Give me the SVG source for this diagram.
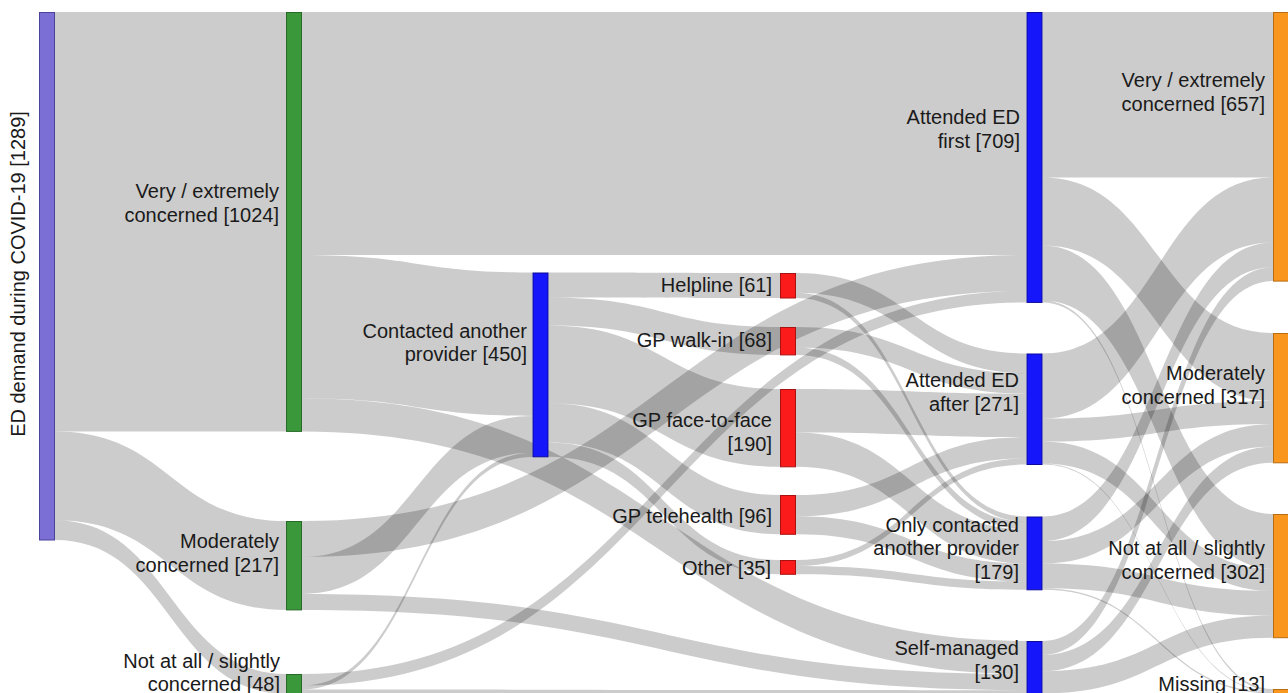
<svg xmlns="http://www.w3.org/2000/svg" width="1288" height="693" viewBox="0 0 1288 693">
<style>
  .lk { fill: #000; fill-opacity: 0.2; stroke: none; }
  .nd { stroke-width: 1; }
  .purple { fill: #7b6fd6; stroke: #4b4299; }
  .green { fill: #3a973a; stroke: #286a28; }
  .blue { fill: #1616fa; stroke: #0b0b9a; }
  .red { fill: #fc1b1b; stroke: #a81212; }
  .orange { fill: #f8961e; stroke: #b86d12; }
  text { font-family: "Liberation Sans", Arial, sans-serif; font-size: 20px; fill: #1a1a1a; text-anchor: end; }
</style>
<rect width="1288" height="693" fill="#fff"/>

<!-- flows -->
<g id="links">
  <!-- column 0 -> 1 -->
  <path class="lk" d="M55 12 L286 12 L286 431.4 L55 431.4 Z"/>
  <path class="lk" d="M55 431.4 C170.5 431.4 170.5 521 286 521 L286 609.9 C170.5 609.9 170.5 520.3 55 520.3 Z"/>
  <path class="lk" d="M55 520.3 C170.5 520.3 170.5 674 286 674 L286 693.7 C170.5 693.7 170.5 540 55 540 Z"/>

  <!-- column 1 -> 2 / 4 -->
  <path class="lk" d="M302 12 L1026.5 12 L1026.5 254.9 L302 254.9 Z"/>
  <path class="lk" d="M302 254.9 C417.25 254.9 417.25 272.5 532.5 272.5 L532.5 415.9 C417.25 415.9 417.25 398.3 302 398.3 Z"/>
  <path class="lk" d="M302 398.3 C664.25 398.3 664.25 641 1026.5 641 L1026.5 674.2 C664.25 674.2 664.25 431.4 302 431.4 Z"/>
  <path class="lk" d="M302 521 C664.25 521 664.25 254.9 1026.5 254.9 L1026.5 290.9 C664.25 290.9 664.25 557 302 557 Z"/>
  <path class="lk" d="M302 557 C417.25 557 417.25 415.9 532.5 415.9 L532.5 452.8 C417.25 452.8 417.25 593.9 302 593.9 Z"/>
  <path class="lk" d="M302 593.9 C664.25 593.9 664.25 674.2 1026.5 674.2 L1026.5 690.2 C664.25 690.2 664.25 609.9 302 609.9 Z"/>
  <path class="lk" d="M302 674 C664.25 674 664.25 290.9 1026.5 290.9 L1026.5 302.4 C664.25 302.4 664.25 685.5 302 685.5 Z"/>
  <path class="lk" d="M302 685.5 C417.25 685.5 417.25 452.8 532.5 452.8 L532.5 456.9 C417.25 456.9 417.25 689.6 302 689.6 Z"/>
  <path class="lk" d="M302 689.6 C664.25 689.6 664.25 690.2 1026.5 690.2 L1026.5 694.3 C664.25 694.3 664.25 693.7 302 693.7 Z"/>

  <!-- column 2 -> 3 -->
  <path class="lk" d="M548.5 272.5 C664.25 272.5 664.25 273 780 273 L780 298 C664.25 298 664.25 297.5 548.5 297.5 Z"/>
  <path class="lk" d="M548.5 297.5 C664.25 297.5 664.25 327 780 327 L780 354.9 C664.25 354.9 664.25 325.4 548.5 325.4 Z"/>
  <path class="lk" d="M548.5 325.4 C664.25 325.4 664.25 389 780 389 L780 466.8 C664.25 466.8 664.25 403.2 548.5 403.2 Z"/>
  <path class="lk" d="M548.5 403.2 C664.25 403.2 664.25 495 780 495 L780 534.3 C664.25 534.3 664.25 442.5 548.5 442.5 Z"/>
  <path class="lk" d="M548.5 442.5 C664.25 442.5 664.25 560 780 560 L780 574.3 C664.25 574.3 664.25 456.8 548.5 456.8 Z"/>

  <!-- column 3 -> 4 -->
  <path class="lk" d="M796 273 C911.25 273 911.25 353.5 1026.5 353.5 L1026.5 373.2 C911.25 373.2 911.25 292.7 796 292.7 Z"/>
  <path class="lk" d="M796 292.7 C911.25 292.7 911.25 516.5 1026.5 516.5 L1026.5 521.8 C911.25 521.8 911.25 298 796 298 Z"/>
  <path class="lk" d="M796 327 C911.25 327 911.25 373.2 1026.5 373.2 L1026.5 393.7 C911.25 393.7 911.25 347.5 796 347.5 Z"/>
  <path class="lk" d="M796 347.5 C911.25 347.5 911.25 521.8 1026.5 521.8 L1026.5 529.2 C911.25 529.2 911.25 354.9 796 354.9 Z"/>
  <path class="lk" d="M796 389 C911.25 389 911.25 393.7 1026.5 393.7 L1026.5 437.1 C911.25 437.1 911.25 432.4 796 432.4 Z"/>
  <path class="lk" d="M796 432.4 C911.25 432.4 911.25 529.2 1026.5 529.2 L1026.5 563.6 C911.25 563.6 911.25 466.8 796 466.8 Z"/>
  <path class="lk" d="M796 495 C911.25 495 911.25 437.1 1026.5 437.1 L1026.5 458.4 C911.25 458.4 911.25 516.3 796 516.3 Z"/>
  <path class="lk" d="M796 516.3 C911.25 516.3 911.25 563.6 1026.5 563.6 L1026.5 581.6 C911.25 581.6 911.25 534.3 796 534.3 Z"/>
  <path class="lk" d="M796 560 C911.25 560 911.25 458.4 1026.5 458.4 L1026.5 464.5 C911.25 464.5 911.25 566.1 796 566.1 Z"/>
  <path class="lk" d="M796 566.1 C911.25 566.1 911.25 581.6 1026.5 581.6 L1026.5 589.8 C911.25 589.8 911.25 574.3 796 574.3 Z"/>

  <!-- column 4 -> 5 -->
  <path class="lk" d="M1042.5 12 L1273 12 L1273 177.5 L1042.5 177.5 Z"/>
  <path class="lk" d="M1042.5 177.5 C1157.75 177.5 1157.75 333 1273 333 L1273 401 C1157.75 401 1157.75 245.5 1042.5 245.5 Z"/>
  <path class="lk" d="M1042.5 245.5 C1157.75 245.5 1157.75 514 1273 514 L1273 568.9 C1157.75 568.9 1157.75 300.4 1042.5 300.4 Z"/>
  <path class="lk" d="M1042.5 300.4 C1157.75 300.4 1157.75 689 1273 689 L1273 691 C1157.75 691 1157.75 302.4 1042.5 302.4 Z"/>
  <path class="lk" d="M1042.5 353.5 C1157.75 353.5 1157.75 177.5 1273 177.5 L1273 242.6 C1157.75 242.6 1157.75 418.6 1042.5 418.6 Z"/>
  <path class="lk" d="M1042.5 418.6 C1157.75 418.6 1157.75 401 1273 401 L1273 423.9 C1157.75 423.9 1157.75 441.5 1042.5 441.5 Z"/>
  <path class="lk" d="M1042.5 441.5 C1157.75 441.5 1157.75 568.9 1273 568.9 L1273 591 C1157.75 591 1157.75 463.6 1042.5 463.6 Z"/>
  <path class="lk" d="M1042.5 463.6 C1157.75 463.6 1157.75 691 1273 691 L1273 691.9 C1157.75 691.9 1157.75 464.5 1042.5 464.5 Z"/>
  <path class="lk" d="M1042.5 516.5 C1157.75 516.5 1157.75 242.6 1273 242.6 L1273 267.2 C1157.75 267.2 1157.75 541.1 1042.5 541.1 Z"/>
  <path class="lk" d="M1042.5 541.1 C1157.75 541.1 1157.75 423.9 1273 423.9 L1273 446.4 C1157.75 446.4 1157.75 563.6 1042.5 563.6 Z"/>
  <path class="lk" d="M1042.5 563.6 C1157.75 563.6 1157.75 591 1273 591 L1273 615.6 C1157.75 615.6 1157.75 588.2 1042.5 588.2 Z"/>
  <path class="lk" d="M1042.5 588.2 C1157.75 588.2 1157.75 691.9 1273 691.9 L1273 693.5 C1157.75 693.5 1157.75 589.8 1042.5 589.8 Z"/>
  <path class="lk" d="M1042.5 641 C1157.75 641 1157.75 267.2 1273 267.2 L1273 281.1 C1157.75 281.1 1157.75 654.9 1042.5 654.9 Z"/>
  <path class="lk" d="M1042.5 654.9 C1157.75 654.9 1157.75 446.4 1273 446.4 L1273 462.8 C1157.75 462.8 1157.75 671.3 1042.5 671.3 Z"/>
  <path class="lk" d="M1042.5 671.3 C1157.75 671.3 1157.75 615.6 1273 615.6 L1273 637.7 C1157.75 637.7 1157.75 693.4 1042.5 693.4 Z"/>
  <path class="lk" d="M1042.5 693.4 C1157.75 693.4 1157.75 693.5 1273 693.5 L1273 694.3 C1157.75 694.3 1157.75 694.2 1042.5 694.2 Z"/>
</g>

<!-- column 0 -->
<g id="ed-demand">
  <rect class="nd purple" x="39.5" y="12.5" width="15" height="527.5"/>
  <text transform="translate(25 274) rotate(-90)" style="text-anchor:middle">ED demand during COVID-19 [1289]</text>
</g>

<!-- column 1: concern before -->
<g id="pre-very">
  <rect class="nd green" x="286.5" y="12.5" width="15" height="418.9"/>
  <text x="279" y="198">Very / extremely</text>
  <text x="279" y="222">concerned [1024]</text>
</g>
<g id="pre-moderate">
  <rect class="nd green" x="286.5" y="521.5" width="15" height="88.4"/>
  <text x="279" y="548">Moderately</text>
  <text x="279" y="572">concerned [217]</text>
</g>
<g id="pre-low">
  <rect class="nd green" x="286.5" y="674.5" width="15" height="19.2"/>
  <text x="280" y="668">Not at all / slightly</text>
  <text x="280" y="691">concerned [48]</text>
</g>

<!-- column 2 -->
<g id="contacted">
  <rect class="nd blue" x="533" y="273" width="15" height="183.8"/>
  <text x="527" y="338">Contacted another</text>
  <text x="527" y="361">provider [450]</text>
</g>

<!-- column 3: provider type -->
<g id="helpline">
  <rect class="nd red" x="780.5" y="273.5" width="15" height="24.5"/>
  <text x="772" y="292">Helpline [61]</text>
</g>
<g id="gp-walkin">
  <rect class="nd red" x="780.5" y="327.5" width="15" height="27.4"/>
  <text x="772" y="347">GP walk-in [68]</text>
</g>
<g id="gp-f2f">
  <rect class="nd red" x="780.5" y="389.5" width="15" height="77.3"/>
  <text x="772" y="427">GP face-to-face</text>
  <text x="772" y="451">[190]</text>
</g>
<g id="gp-telehealth">
  <rect class="nd red" x="780.5" y="495.5" width="15" height="38.8"/>
  <text x="772" y="523">GP telehealth [96]</text>
</g>
<g id="other">
  <rect class="nd red" x="780.5" y="560.5" width="15" height="13.8"/>
  <text x="771" y="575">Other [35]</text>
</g>

<!-- column 4: outcome -->
<g id="ed-first">
  <rect class="nd blue" x="1027" y="12.5" width="15" height="289.9"/>
  <text x="1020" y="124">Attended ED</text>
  <text x="1020" y="148">first [709]</text>
</g>
<g id="ed-after">
  <rect class="nd blue" x="1027" y="354" width="15" height="110.5"/>
  <text x="1019" y="387">Attended ED</text>
  <text x="1019" y="411">after [271]</text>
</g>
<g id="only-contacted">
  <rect class="nd blue" x="1027" y="517" width="15" height="72.8"/>
  <text x="1019" y="532">Only contacted</text>
  <text x="1019" y="555">another provider</text>
  <text x="1019" y="579">[179]</text>
</g>
<g id="self-managed">
  <rect class="nd blue" x="1027" y="641.5" width="15" height="52.7"/>
  <text x="1019" y="655">Self-managed</text>
  <text x="1019" y="679">[130]</text>
</g>

<!-- column 5: concern after -->
<g id="post-very">
  <rect class="nd orange" x="1273.5" y="12.5" width="15" height="268.6"/>
  <text x="1265" y="87">Very / extremely</text>
  <text x="1265" y="111">concerned [657]</text>
</g>
<g id="post-moderate">
  <rect class="nd orange" x="1273.5" y="333.5" width="15" height="129.3"/>
  <text x="1265" y="380">Moderately</text>
  <text x="1265" y="404">concerned [317]</text>
</g>
<g id="post-low">
  <rect class="nd orange" x="1273.5" y="514.5" width="15" height="123.2"/>
  <text x="1265" y="555">Not at all / slightly</text>
  <text x="1265" y="579">concerned [302]</text>
</g>
<g id="missing">
  <rect class="nd orange" x="1273.5" y="689.5" width="15" height="4.8"/>
  <text x="1265" y="691">Missing [13]</text>
</g>
</svg>
